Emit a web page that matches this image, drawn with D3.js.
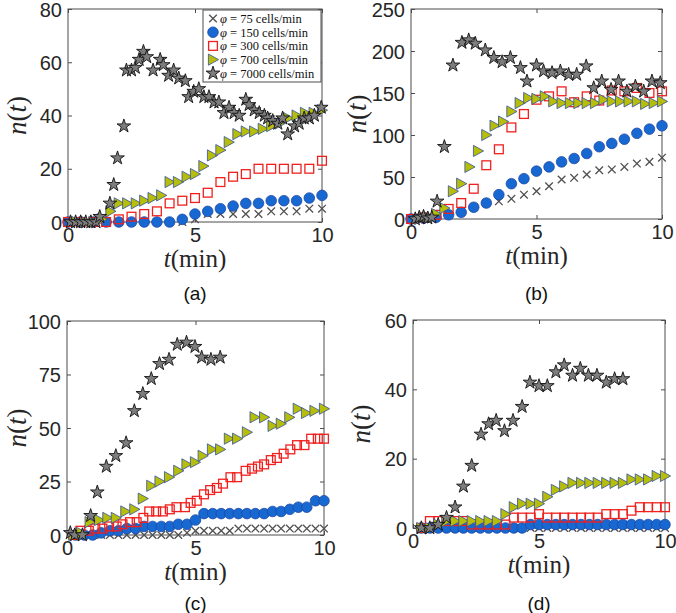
<!DOCTYPE html>
<html>
<head>
<meta charset="utf-8">
<script src="https://cdn.jsdelivr.net/npm/d3@7"></script>
<style>
  html, body { margin: 0; padding: 0; background: #fff; }
  svg { display: block; }
</style>
</head>
<body>
<svg id="chart" width="676" height="613"></svg>
<script>
// ---------------- DATA ----------------
const seriesNames = ["φ = 75 cells/min", "φ = 150 cells/min", "φ = 300 cells/min", "φ = 700 cells/min", "φ = 7000 cells/min"];
const phiValues = ["75", "150", "300", "700", "7000"];
const xTicks = [0, 5, 10];
const yTicksA = [0, 20, 40, 60, 80];
const yTicksB = [0, 50, 100, 150, 200, 250];
const yTicksC = [0, 25, 50, 75, 100];
const yTicksD = [0, 20, 40, 60];
const panelLabels = ["(a)", "(b)", "(c)", "(d)"];

const tHalf = [0,0.5,1,1.5,2,2.5,3,3.5,4,4.5,5,5.5,6,6.5,7,7.5,8,8.5,9,9.5,10];
const tThird = [0.33,0.67,1,1.33,1.67,2,2.33,2.67,3,3.33,3.67,4,4.33,4.67,5,5.33,5.67,6,6.33,6.67,7,7.33,7.67,8,8.33,8.67,9,9.33,9.67,10];

// panel (a)
const a75  = [0,0,0,0,0,0,0,0,0,0,1,3,3,3,3,3,4,4,4,5,5];
const a150 = [0,0,0,0,0,0,0,0,0,1,3,4,5,6,7,7,8,8,8,9,10];
const a300 = [0,0,0,0,1,2,3,4,7,8,9,11,15,17,18,20,20,20,20,20,23];
const a700 = [0,0,0,1,4,7,7,7,8,9,10,15,15,17,18,21,25,27,30,33,34,34,35,36,37,39,40,41,41,42];
const a7000T = [0.1,0.3,0.5,0.7,0.9,1.1,1.25,1.65,1.8,1.95,2.2,2.3,2.5,2.65,2.8,2.97,3.1,3.35,3.63,3.75,3.96,4.16,4.36,4.62,4.75,4.95,5.15,5.35,5.55,5.75,5.94,6.14,6.34,6.54,6.74,7.0,7.13,7.33,7.53,7.73,7.86,8.06,8.26,8.45,8.65,8.92,9.1,9.3,9.5,9.7,9.97];
const a7000 = [0,0,0,0,0,0,2,7,14,24,36,57,57,58,61,64,62,57,61,59,55,57,54,53,47,49,50,47,47,45,45,41,43,41,40,46,44,42,41,40,39,38,37,39,33,36,37,39,39,40,43];

// panel (b)
const b75  = [0,1,2,5,8,14,19,21,24,29,33,39,47,49,53,58,59,62,66,68,73];
const b150 = [0,1,2,5,8,14,19,29,42,48,57,62,68,72,78,86,90,95,102,107,111];
const b300 = [0,2,5,12,19,36,64,83,109,125,142,146,152,139,146,141,153,152,156,150,152];
const b700 = [0,2,6,13,33,42,62,81,100,111,116,128,138,144,143,146,140,138,138,138,138,138,142,140,140,140,140,137,138,140];
const b7000T = [0.17,0.33,0.5,0.67,0.83,1.04,1.33,1.67,2.03,2.3,2.56,2.96,3.3,3.63,3.96,4.36,4.62,5.0,5.28,5.62,5.95,6.28,6.6,6.98,7.28,7.6,7.97,8.27,8.6,8.94,9.27,9.6,9.93];
const b7000 = [0,2,3,1,2,21,86,183,210,213,209,201,192,187,192,180,164,183,176,174,176,172,172,182,156,164,154,164,152,158,152,164,162];

// panel (c)
const c75  = [0,0,0,0,0,0,0,0,0,0,0,0,0,1,2,2,2,2,2,3,3,3,3,3,3,3,3,3,3,3];
const c150 = [0,0,0,1,2,2,3,3,4,4,4,4,5,5,7,10,10,10,10,10,10,10,10,11,11,12,13,13,16,16];
const c300T = [0.25,0.52,0.85,1.1,1.38,1.64,1.93,2.16,2.45,2.71,2.97,3.2,3.47,3.73,4.0,4.26,4.59,4.81,5.05,5.33,5.57,5.83,6.07,6.36,6.62,6.95,7.2,7.43,7.67,7.93,8.17,8.43,8.69,8.95,9.24,9.5,9.76,10];
const c300 = [0,2,2,3,3,4,4,5,6,6,8,11,11,11,12,13,13,15,16,19,21,22,24,27,27,30,31,32,33,35,36,38,40,42,42,45,45,45];
const c700T = [0.25,0.55,0.88,1.25,1.57,1.9,2.27,2.62,2.95,3.28,3.6,3.97,4.33,4.65,4.98,5.28,5.64,5.96,6.3,6.62,7.0,7.3,7.67,8.0,8.32,8.65,8.98,9.3,9.63,10];
const c700 = [0,1,6,7,8,8,11,12,17,23,25,27,30,33,34,37,40,40,45,45,48,55,55,51,52,55,59,57,58,59];
const c7000T = [0.13,0.3,0.6,0.92,1.18,1.53,1.9,2.3,2.62,2.95,3.28,3.6,3.97,4.29,4.65,4.98,5.24,5.6,5.96];
const c7000 = [1,0,0,9,20,32,37,43,58,66,73,80,82,89,90,88,83,82,83];

// panel (d)
const d75  = [0,0,0,0,0,0,0,0,0,0,0,0,0,0,0,0,0,0,0,0,0,0,0,0,0,0,0,0,0,0];
const d150 = [0,0,0,0,0,0,0,0,0,0,0,0,0,1,1,1,1,1,1,1,1,1,1,1,1,1,1,1,1,1];
const d300 = [0,2,2,2,2,2,1,1,1,1,1,3,3,3,4,3,3,3,3,3,3,3,4,4,4,5,6,6,6,6];
const d700 = [0,0,1,2,2,2,2,2,2,2,4,6,7,7,7,9,11,12,13,13,13,13,13,13,13,14,14,14,15,15];
const d7000T = [0.33,0.67,1.0,1.33,1.67,2.0,2.33,2.7,3.0,3.3,3.63,3.97,4.33,4.64,5.0,5.33,5.67,6.0,6.33,6.64,6.96,7.3,7.67,8.0,8.33];
const d7000 = [0,0,1,3,6,12,18,27,30,31,28,31,35,42,41,41,45,47,44,46,44,44,42,43,43];

// ---------------- STYLE / LAYOUT ----------------
const panels = [
  { label: panelLabels[0], x0: 68,  x1: 322, y0: 9,   y1: 222, ymax: 80,  yTicks: yTicksA, ylx: 17,  legend: true,
    data: [[tHalf,a75],[tHalf,a150],[tHalf,a300],[tThird,a700],[a7000T,a7000]] },
  { label: panelLabels[1], x0: 411, x1: 662, y0: 9,   y1: 219, ymax: 250, yTicks: yTicksB, ylx: 357,
    data: [[tHalf,b75],[tHalf,b150],[tHalf,b300],[tThird,b700],[b7000T,b7000]] },
  { label: panelLabels[2], x0: 67,  x1: 324, y0: 321, y1: 535, ymax: 100, yTicks: yTicksC, ylx: 17,
    data: [[tThird,c75],[tThird,c150],[c300T,c300],[c700T,c700],[c7000T,c7000]] },
  { label: panelLabels[3], x0: 413, x1: 665, y0: 320, y1: 528, ymax: 60,  yTicks: yTicksD, ylx: 361,
    data: [[tThird,d75],[tThird,d150],[tThird,d300],[tThird,d700],[d7000T,d7000]] }
];
const captionY = [293, 293, 603, 603];

const svg = d3.select("#chart");
const axisColor = "#4d4d4d";
const textColor = "#262626";
const sansFont = "Liberation Sans, Arial, Helvetica, sans-serif";
const serifFont = "Liberation Serif, Times New Roman, serif";

const starPath = d3.symbol().type(d3.symbolStar).size(58)();
const trianglePath = "M-4.6,-5.6L5.6,0L-4.6,5.6Z";

function drawMarker(g, k, x, y) {
  if (k === 0) {
    g.append("path").attr("d", `M${x-3.8},${y-3.8}L${x+3.8},${y+3.8}M${x-3.8},${y+3.8}L${x+3.8},${y-3.8}`)
      .attr("stroke", "#505050").attr("stroke-width", 1.3).attr("fill", "none");
  } else if (k === 1) {
    g.append("circle").attr("cx", x).attr("cy", y).attr("r", 5.3)
      .attr("fill", "#1768d0").attr("stroke", "#1e47a6").attr("stroke-width", 0.8);
  } else if (k === 2) {
    g.append("rect").attr("x", x-4.4).attr("y", y-4.4).attr("width", 8.8).attr("height", 8.8)
      .attr("fill", "none").attr("stroke", "#f0201e").attr("stroke-width", 1.3);
  } else if (k === 3) {
    g.append("path").attr("d", trianglePath).attr("transform", `translate(${x},${y})`)
      .attr("fill", "#b6bd0a").attr("stroke", "#34519a").attr("stroke-width", 0.8);
  } else {
    g.append("path").attr("d", starPath).attr("transform", `translate(${x},${y})`)
      .attr("fill", "#7d7d7d").attr("stroke", "#111").attr("stroke-width", 0.9);
  }
}

panels.forEach((p, pi) => {
  const g = svg.append("g");
  const x = d3.scaleLinear().domain([0, 10]).range([p.x0, p.x1]);
  const y = d3.scaleLinear().domain([0, p.ymax]).range([p.y1, p.y0]);

  g.append("rect").attr("x", p.x0).attr("y", p.y0).attr("width", p.x1 - p.x0).attr("height", p.y1 - p.y0)
    .attr("fill", "none").attr("stroke", axisColor).attr("stroke-width", 1);

  const tl = 4;
  const ax = g.append("g").attr("transform", `translate(0,${p.y1})`)
    .call(d3.axisBottom(x).tickValues(xTicks).tickSize(-tl).tickPadding(6).tickFormat(d3.format("d")));
  ax.attr("font-family", null).attr("font-size", null);
  ax.select(".domain").remove();
  ax.selectAll("line").attr("stroke", axisColor);
  ax.selectAll("text").style("font-family", sansFont).style("font-size", "20px").attr("fill", textColor)
    .attr("y", 13).attr("dy", "0.36em");

  const axT = g.append("g").attr("transform", `translate(0,${p.y0})`)
    .call(d3.axisTop(x).tickValues(xTicks).tickSize(-tl).tickFormat(""));
  axT.select(".domain").remove();
  axT.selectAll("line").attr("stroke", axisColor);

  const ay = g.append("g").attr("transform", `translate(${p.x0},0)`)
    .call(d3.axisLeft(y).tickValues(p.yTicks).tickSize(-tl).tickPadding(6).tickFormat(d3.format("d")));
  ay.attr("font-family", null).attr("font-size", null);
  ay.select(".domain").remove();
  ay.selectAll("line").attr("stroke", axisColor);
  ay.selectAll("text").style("font-family", sansFont).style("font-size", "20px").attr("fill", textColor)
    .attr("x", -6).attr("dy", "0.36em");

  const ayR = g.append("g").attr("transform", `translate(${p.x1},0)`)
    .call(d3.axisRight(y).tickValues(p.yTicks).tickSize(-tl).tickFormat(""));
  ayR.select(".domain").remove();
  ayR.selectAll("line").attr("stroke", axisColor);

  const mg = g.append("g");
  p.data.forEach(([ts, ns], k) => {
    const sg = mg.append("g");
    ts.forEach((t, i) => drawMarker(sg, k, x(t), y(ns[i])));
  });

  const xl = g.append("text").attr("x", (p.x0 + p.x1) / 2).attr("y", p.y1 + 37).attr("dy", "0.33em")
    .attr("text-anchor", "middle").style("font-family", serifFont).style("font-size", "25px").attr("fill", textColor);
  xl.append("tspan").style("font-style", "italic").text("t");
  xl.append("tspan").text("(min)");

  const yl = g.append("text").attr("transform", `translate(${p.ylx},${(p.y0 + p.y1) / 2}) rotate(-90)`)
    .attr("dy", "0.33em").attr("text-anchor", "middle").style("font-family", serifFont)
    .style("font-size", "27px").attr("fill", textColor);
  yl.append("tspan").style("font-style", "italic").text("n");
  yl.append("tspan").text("(");
  yl.append("tspan").style("font-style", "italic").text("t");
  yl.append("tspan").text(")");

  g.append("text").attr("x", (p.x0 + p.x1) / 2).attr("y", captionY[pi]).attr("dy", "0.36em")
    .attr("text-anchor", "middle").style("font-family", sansFont).style("font-size", "19px").attr("fill", "#111")
    .text(p.label);

  if (p.legend) {
    const lg = g.append("g");
    lg.append("rect").attr("x", 203).attr("y", 10).attr("width", 118).attr("height", 72)
      .attr("fill", "#fff").attr("stroke", axisColor).attr("stroke-width", 1);
    seriesNames.forEach((name, k) => {
      const ly = 18.5 + k * 13.7;
      drawMarker(lg, k, 213, ly);
      const t = lg.append("text").attr("x", 220).attr("y", ly).attr("dy", "0.35em")
        .style("font-family", serifFont).style("font-size", "12.5px").attr("fill", "#111");
      t.append("tspan").style("font-style", "italic").text("φ");
      t.append("tspan").text(" = " + phiValues[k] + " cells/min");
    });
  }
});
</script>
</body>
</html>
